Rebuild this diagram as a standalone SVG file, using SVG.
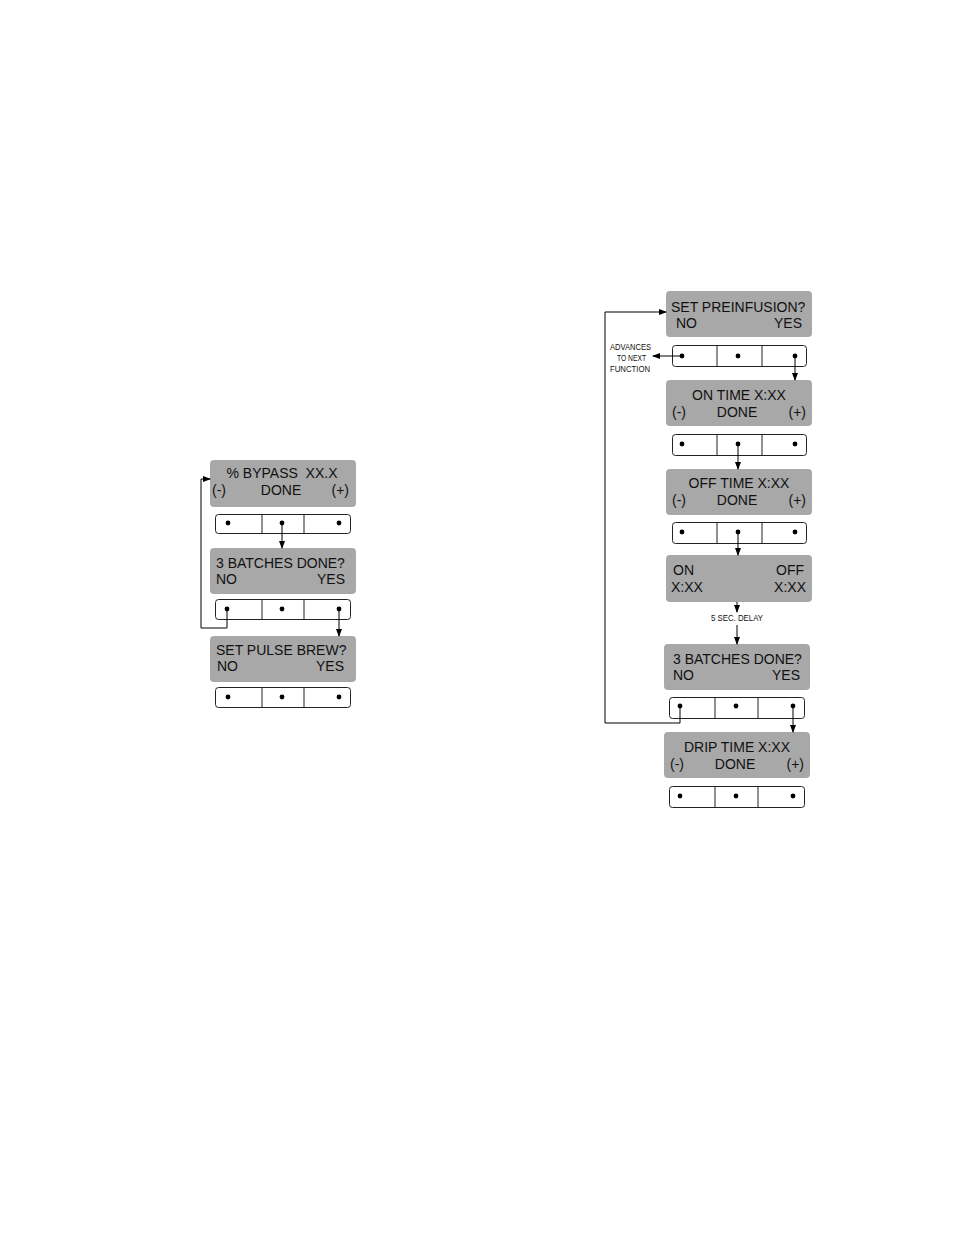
<svg xmlns="http://www.w3.org/2000/svg" width="954" height="1235" viewBox="0 0 954 1235">
<style>
.disp{fill:#a8a8a8;stroke:none}
.btn{fill:#fff;stroke:#222;stroke-width:1}
.div{stroke:#222;stroke-width:1}
.dot{fill:#000}
.t{font-family:"Liberation Sans",Arial,sans-serif;font-size:14px;fill:#111}
.s{font-family:"Liberation Sans",Arial,sans-serif;font-size:8.5px;fill:#111}
.c{fill:none;stroke:#000;stroke-width:1}
</style>
<defs>
<marker id="ah" markerWidth="8" markerHeight="6" refX="7" refY="3" orient="auto" markerUnits="userSpaceOnUse">
<path d="M0,0 L8,3 L0,6 Z" fill="#000"/>
</marker>
</defs>
<rect width="954" height="1235" fill="#fff"/>

<!-- Left column -->
<g id="bypass">
<rect class="disp" x="210" y="460" width="146" height="47" rx="4"/>
<text class="t" x="282" y="478" text-anchor="middle" xml:space="preserve">% BYPASS  XX.X</text>
<text class="t" x="212" y="495">(-)</text>
<text class="t" x="281" y="495" text-anchor="middle">DONE</text>
<text class="t" x="349" y="495" text-anchor="end">(+)</text>
</g>
<g id="bypass-buttons">
<rect class="btn" x="215.5" y="514.5" width="135" height="19" rx="3"/>
<line class="div" x1="262" y1="514.5" x2="262" y2="533.5"/>
<line class="div" x1="304" y1="514.5" x2="304" y2="533.5"/>
<circle class="dot" cx="228" cy="523" r="2.4"/>
<circle class="dot" cx="282" cy="523" r="2.4"/>
<circle class="dot" cx="339" cy="523" r="2.4"/>
</g>
<g id="batches1">
<rect class="disp" x="210" y="548" width="146" height="46" rx="4"/>
<text class="t" x="216" y="568">3 BATCHES DONE?</text>
<text class="t" x="216" y="584">NO</text>
<text class="t" x="345" y="584" text-anchor="end">YES</text>
</g>
<g id="batches1-buttons">
<rect class="btn" x="215.5" y="599.5" width="135" height="20" rx="3"/>
<line class="div" x1="262" y1="599.5" x2="262" y2="619.5"/>
<line class="div" x1="304" y1="599.5" x2="304" y2="619.5"/>
<circle class="dot" cx="227" cy="609" r="2.4"/>
<circle class="dot" cx="282" cy="609" r="2.4"/>
<circle class="dot" cx="339" cy="609" r="2.4"/>
</g>
<g id="pulsebrew">
<rect class="disp" x="210" y="636" width="146" height="46" rx="4"/>
<text class="t" x="216" y="655">SET PULSE BREW?</text>
<text class="t" x="217" y="671">NO</text>
<text class="t" x="344" y="671" text-anchor="end">YES</text>
</g>
<g id="pulsebrew-buttons">
<rect class="btn" x="215.5" y="687.5" width="135" height="20" rx="3"/>
<line class="div" x1="262" y1="687.5" x2="262" y2="707.5"/>
<line class="div" x1="304" y1="687.5" x2="304" y2="707.5"/>
<circle class="dot" cx="228" cy="697" r="2.4"/>
<circle class="dot" cx="282" cy="697" r="2.4"/>
<circle class="dot" cx="339" cy="697" r="2.4"/>
</g>

<!-- Right column -->
<g id="preinfusion">
<rect class="disp" x="666" y="291" width="146" height="46" rx="4"/>
<text class="t" x="671" y="312">SET PREINFUSION?</text>
<text class="t" x="676" y="328">NO</text>
<text class="t" x="802" y="328" text-anchor="end">YES</text>
</g>
<g id="preinfusion-buttons">
<rect class="btn" x="672.5" y="345.5" width="134" height="21" rx="3"/>
<line class="div" x1="717" y1="345.5" x2="717" y2="366.5"/>
<line class="div" x1="762" y1="345.5" x2="762" y2="366.5"/>
<circle class="dot" cx="682" cy="356" r="2.4"/>
<circle class="dot" cx="738" cy="356" r="2.4"/>
<circle class="dot" cx="795" cy="356" r="2.4"/>
</g>
<g id="advances">
<text class="s" x="610" y="350" textLength="41" lengthAdjust="spacingAndGlyphs">ADVANCES</text>
<text class="s" x="617" y="361" textLength="29" lengthAdjust="spacingAndGlyphs">TO NEXT</text>
<text class="s" x="610" y="372" textLength="40" lengthAdjust="spacingAndGlyphs">FUNCTION</text>
</g>
<g id="ontime">
<rect class="disp" x="666" y="380" width="146" height="46" rx="4"/>
<text class="t" x="739" y="400" text-anchor="middle">ON TIME X:XX</text>
<text class="t" x="672" y="417">(-)</text>
<text class="t" x="737" y="417" text-anchor="middle">DONE</text>
<text class="t" x="806" y="417" text-anchor="end">(+)</text>
</g>
<g id="ontime-buttons">
<rect class="btn" x="672.5" y="434.5" width="134" height="21" rx="3"/>
<line class="div" x1="717" y1="434.5" x2="717" y2="455.5"/>
<line class="div" x1="762" y1="434.5" x2="762" y2="455.5"/>
<circle class="dot" cx="682" cy="444" r="2.4"/>
<circle class="dot" cx="738" cy="444" r="2.4"/>
<circle class="dot" cx="795" cy="444" r="2.4"/>
</g>
<g id="offtime">
<rect class="disp" x="666" y="469" width="146" height="46" rx="4"/>
<text class="t" x="739" y="488" text-anchor="middle">OFF TIME X:XX</text>
<text class="t" x="672" y="505">(-)</text>
<text class="t" x="737" y="505" text-anchor="middle">DONE</text>
<text class="t" x="806" y="505" text-anchor="end">(+)</text>
</g>
<g id="offtime-buttons">
<rect class="btn" x="672.5" y="522.5" width="134" height="21" rx="3"/>
<line class="div" x1="717" y1="522.5" x2="717" y2="543.5"/>
<line class="div" x1="762" y1="522.5" x2="762" y2="543.5"/>
<circle class="dot" cx="682" cy="532" r="2.4"/>
<circle class="dot" cx="738" cy="532" r="2.4"/>
<circle class="dot" cx="795" cy="532" r="2.4"/>
</g>
<g id="onoff">
<rect class="disp" x="666" y="555" width="146" height="47" rx="4"/>
<text class="t" x="673" y="575">ON</text>
<text class="t" x="804" y="575" text-anchor="end">OFF</text>
<text class="t" x="671" y="592">X:XX</text>
<text class="t" x="806" y="592" text-anchor="end">X:XX</text>
</g>
<g id="delay">
<text class="s" x="711" y="621" textLength="52" lengthAdjust="spacingAndGlyphs">5 SEC. DELAY</text>
</g>
<g id="batches2">
<rect class="disp" x="664" y="644" width="146" height="46" rx="4"/>
<text class="t" x="673" y="664">3 BATCHES DONE?</text>
<text class="t" x="673" y="680">NO</text>
<text class="t" x="800" y="680" text-anchor="end">YES</text>
</g>
<g id="batches2-buttons">
<rect class="btn" x="669.5" y="697.5" width="135" height="21" rx="3"/>
<line class="div" x1="715" y1="697.5" x2="715" y2="718.5"/>
<line class="div" x1="758" y1="697.5" x2="758" y2="718.5"/>
<circle class="dot" cx="680" cy="706" r="2.4"/>
<circle class="dot" cx="736" cy="706" r="2.4"/>
<circle class="dot" cx="793" cy="706" r="2.4"/>
</g>
<g id="driptime">
<rect class="disp" x="664" y="732" width="146" height="46" rx="4"/>
<text class="t" x="737" y="752" text-anchor="middle">DRIP TIME X:XX</text>
<text class="t" x="670" y="769">(-)</text>
<text class="t" x="735" y="769" text-anchor="middle">DONE</text>
<text class="t" x="804" y="769" text-anchor="end">(+)</text>
</g>
<g id="driptime-buttons">
<rect class="btn" x="669.5" y="786.5" width="135" height="21" rx="3"/>
<line class="div" x1="715" y1="786.5" x2="715" y2="807.5"/>
<line class="div" x1="758" y1="786.5" x2="758" y2="807.5"/>
<circle class="dot" cx="680" cy="796" r="2.4"/>
<circle class="dot" cx="736" cy="796" r="2.4"/>
<circle class="dot" cx="793" cy="796" r="2.4"/>
</g>

<g id="connectors">
<path class="c" d="M282,523 V548" marker-end="url(#ah)"/>
<path class="c" d="M339,609 V636" marker-end="url(#ah)"/>
<path class="c" d="M227,609 V628 H201 V479 H210" marker-end="url(#ah)"/>
<path class="c" d="M682,356 H653" marker-end="url(#ah)"/>
<path class="c" d="M795,356 V380" marker-end="url(#ah)"/>
<path class="c" d="M738,444 V469" marker-end="url(#ah)"/>
<path class="c" d="M738,532 V555" marker-end="url(#ah)"/>
<path class="c" d="M737,602 V612" marker-end="url(#ah)"/>
<path class="c" d="M737,625 V644" marker-end="url(#ah)"/>
<path class="c" d="M793,706 V732" marker-end="url(#ah)"/>
<path class="c" d="M680,706 V723 H605 V312 H666" marker-end="url(#ah)"/>
</g>
</svg>
